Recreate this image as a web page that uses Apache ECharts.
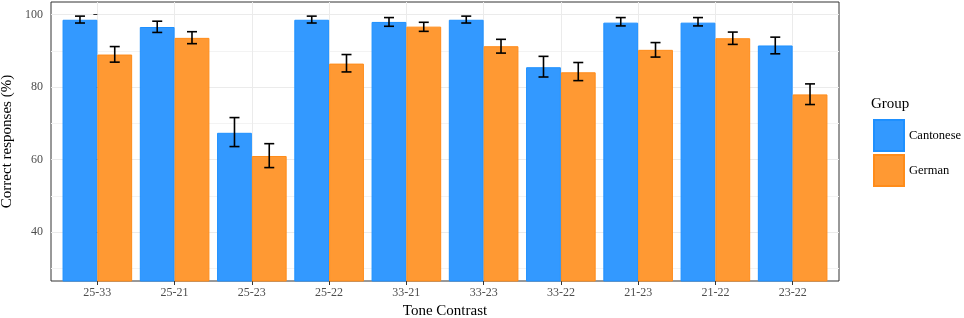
<!DOCTYPE html>
<html>
<head>
<meta charset="utf-8">
<script src="https://cdn.jsdelivr.net/npm/echarts@6/dist/echarts.min.js"></script>
<style>
  html, body { margin: 0; padding: 0; background: #fff; }
  #chart { width: 964px; height: 318px; }
</style>
</head>
<body>
<div id="chart"></div>
<script>
// tone contrasts on the x axis
let contrasts = ['25-33', '25-21', '25-23', '25-22', '33-21', '33-23', '33-22', '21-23', '21-22', '23-22'];
let groups = ['Cantonese', 'German'];

// mean % correct and error bar ends
let cantoneseMean = [98.6, 96.6, 67.4, 98.6, 98.0, 98.6, 85.5, 97.8, 97.8, 91.5];
let cantoneseLow  = [97.7, 95.1, 63.6, 97.7, 96.8, 97.7, 82.8, 96.9, 96.9, 89.2];
let cantoneseHigh = [99.6, 98.2, 71.6, 99.6, 99.2, 99.6, 88.5, 99.2, 99.2, 93.8];
let germanMean = [89.0, 93.6, 61.0, 86.5, 96.7, 91.3, 84.1, 90.3, 93.5, 78.0];
let germanLow  = [86.9, 92.0, 57.8, 84.2, 95.4, 89.4, 81.8, 88.3, 91.8, 75.2];
let germanHigh = [91.2, 95.3, 64.4, 89.0, 97.9, 93.2, 86.8, 92.3, 95.2, 80.9];

let yTicks = [40, 60, 80, 100];
let yMinorTicks = [30, 50, 70, 90];

const FONT = 'Liberation Serif';
const DODGE = 0.225;

var chart = echarts.init(document.getElementById('chart'));

function barData(values) {
  return values.map((v, i) => [i, v]);
}

function errData(low, high, shift) {
  return low.map((lo, i) => [i + shift, lo, high[i]]);
}

function renderErr(params, api) {
  let top = api.coord([api.value(0), api.value(2)]);
  let bot = api.coord([api.value(0), api.value(1)]);
  let half = 5;
  let style = { stroke: '#000', lineWidth: 1.6 };
  return {
    type: 'group',
    children: [
      { type: 'line', shape: { x1: top[0], y1: top[1], x2: bot[0], y2: bot[1] }, style: style },
      { type: 'line', shape: { x1: top[0] - half, y1: top[1], x2: top[0] + half, y2: top[1] }, style: style },
      { type: 'line', shape: { x1: bot[0] - half, y1: bot[1], x2: bot[0] + half, y2: bot[1] }, style: style }
    ]
  };
}

let option = {
  animation: false,
  textStyle: { fontFamily: FONT },
  grid: {
    left: 51,
    right: 125,
    top: 2,
    bottom: 37,
    show: true,
    borderColor: '#333333',
    borderWidth: 1,
    containLabel: false,
    outerBoundsMode: 'none'
  },
  title: {
    text: 'Group',
    left: 871,
    top: 97,
    padding: 0,
    textStyle: { fontFamily: FONT, fontSize: 15, fontWeight: 'normal', color: '#000' }
  },
  legend: {
    data: groups,
    orient: 'vertical',
    left: 873,
    top: 119,
    padding: 0,
    itemWidth: 30,
    itemHeight: 31,
    itemGap: 2,
    icon: 'rect',
    textStyle: { fontFamily: FONT, fontSize: 12.5, color: '#000' }
  },
  xAxis: {
    type: 'value',
    min: -0.6,
    max: 9.6,
    name: 'Tone Contrast',
    nameLocation: 'middle',
    nameGap: 21,
    nameTextStyle: { fontFamily: FONT, fontSize: 15, color: '#000' },
    axisLine: { show: false },
    axisTick: { show: true, length: 4, customValues: contrasts.map((c, i) => i), lineStyle: { color: '#333333', width: 1 } },
    axisLabel: {
      customValues: contrasts.map((c, i) => i),
      formatter: v => contrasts[Math.round(v)],
      fontFamily: FONT,
      fontSize: 12,
      color: '#4D4D4D',
      margin: 6
    },
    splitLine: { show: true, lineStyle: { color: '#EBEBEB', width: 1 } }
  },
  yAxis: [
    {
      type: 'value',
      min: 26.5,
      max: 103.5,
      name: 'Correct responses (%)',
      nameLocation: 'middle',
      nameRotate: 90,
      nameGap: 33,
      nameTextStyle: { fontFamily: FONT, fontSize: 15, color: '#000' },
      axisLine: { show: false },
      axisTick: { show: true, length: 4, customValues: yTicks, lineStyle: { color: '#333333', width: 1 } },
      axisLabel: { customValues: yTicks, fontFamily: FONT, fontSize: 12, color: '#4D4D4D', margin: 8 },
      splitLine: { show: true, lineStyle: { color: '#EBEBEB', width: 1 } }
    },
    {
      // minor grid lines only
      type: 'value',
      min: 26.5,
      max: 103.5,
      position: 'left',
      axisLine: { show: false },
      axisTick: { show: false, customValues: yMinorTicks },
      axisLabel: { show: false, customValues: yMinorTicks },
      splitLine: { show: true, lineStyle: { color: '#F3F3F3', width: 1 } }
    }
  ],
  series: [
    {
      name: 'Cantonese',
      type: 'bar',
      data: barData(cantoneseMean),
      barWidth: 34.8,
      barGap: '0%',
      itemStyle: { color: '#3399FF', borderColor: '#1E90FF', borderWidth: 1 }
    },
    {
      name: 'German',
      type: 'bar',
      data: barData(germanMean),
      barWidth: 34.8,
      barGap: '0%',
      itemStyle: { color: '#FF9933', borderColor: '#FF8C1A', borderWidth: 1 }
    },
    {
      type: 'custom',
      renderItem: renderErr,
      data: errData(cantoneseLow, cantoneseHigh, -DODGE),
      z: 5
    },
    {
      type: 'custom',
      renderItem: renderErr,
      data: errData(germanLow, germanHigh, DODGE),
      z: 5
    }
  ]
};

option && chart.setOption(option);
</script>
</body>
</html>
